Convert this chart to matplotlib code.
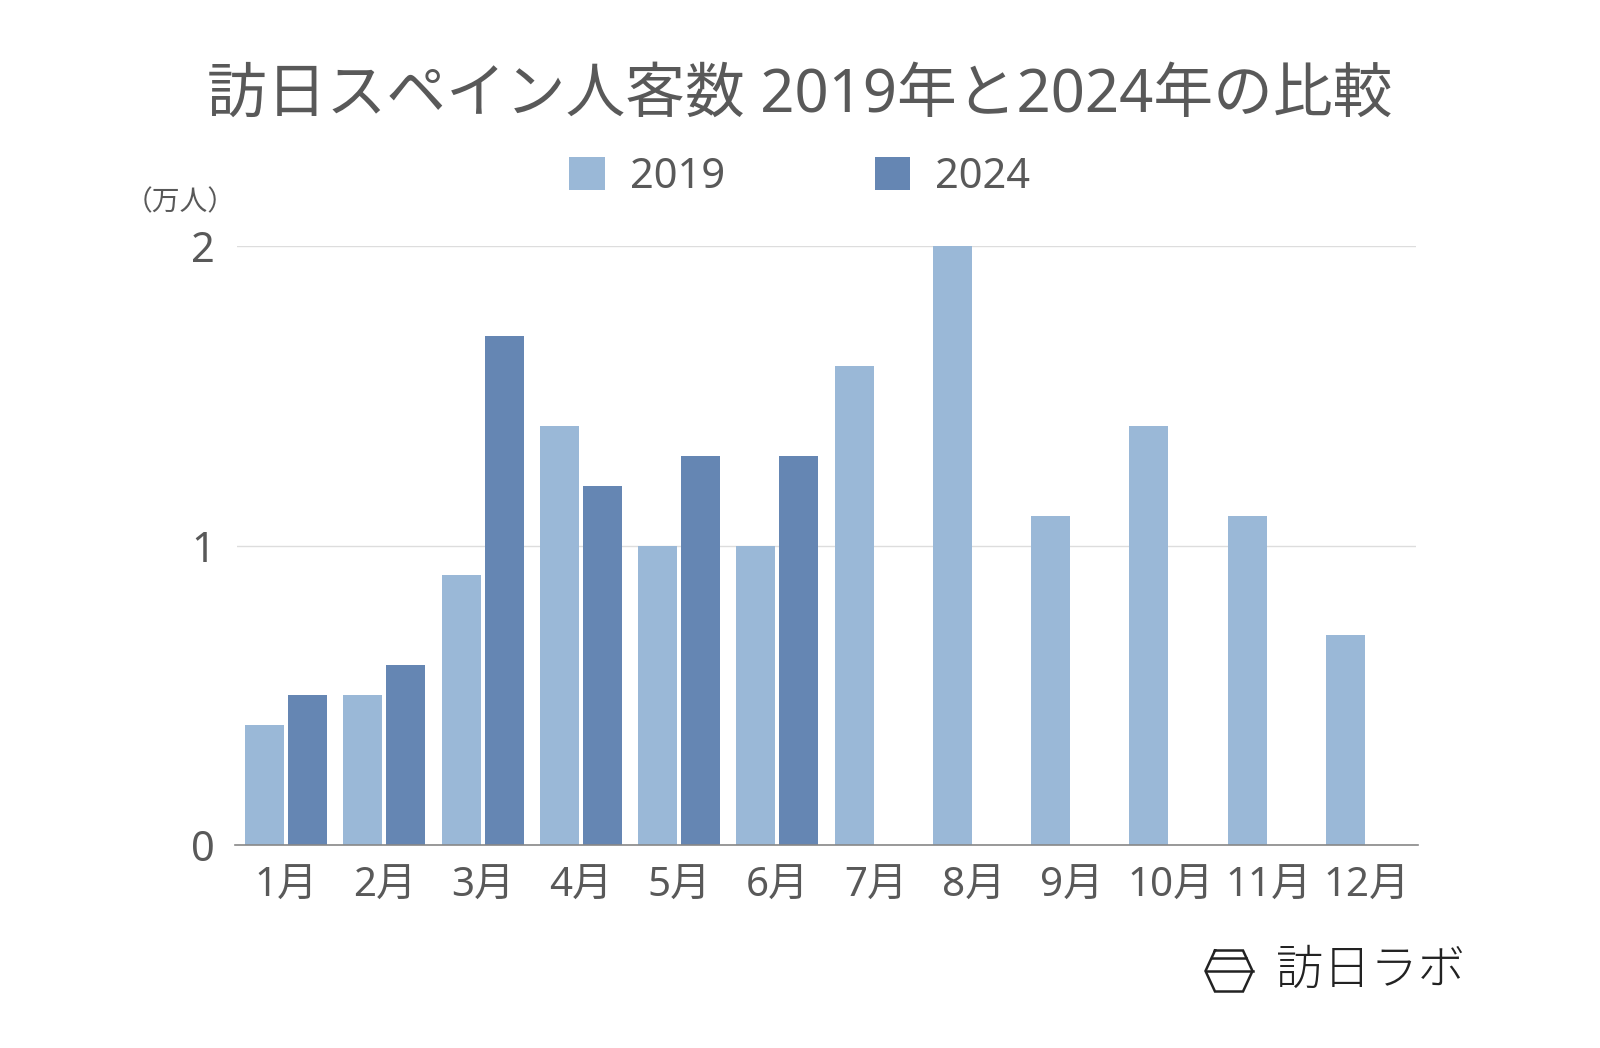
import matplotlib
matplotlib.use("Agg")
import matplotlib.pyplot as plt
import numpy as np

FAM = ['Noto Sans', 'Noto Sans CJK JP', 'DejaVu Sans']
plt.rcParams['font.family'] = FAM

months = ["1月", "2月", "3月", "4月", "5月", "6月", "7月", "8月", "9月", "10月", "11月", "12月"]
v2019 = [0.4, 0.5, 0.9, 1.4, 1.0, 1.0, 1.6, 2.0, 1.1, 1.4, 1.1, 0.7]
v2024 = [0.5, 0.6, 1.7, 1.2, 1.3, 1.3]
series_labels = ["2019", "2024"]
title = "訪日スペイン人客数 2019年と2024年の比較"
unit = "（万人）"
yticks = [0, 1, 2]

c19 = "#9AB8D7"
c24 = "#6586B3"
tc = "#595959"

fig = plt.figure(figsize=(16, 10.48), dpi=100)
ax = fig.add_axes([237/1600, 1 - 845/1048, (1416-237)/1600, (845-246)/1048])

x = np.arange(len(months))
w = 0.397
off = 0.219
ax.bar(x - off, v2019, width=w, color=c19, label=series_labels[0], zorder=2)
ax.bar(x[:len(v2024)] + off, v2024, width=w, color=c24, label=series_labels[1], zorder=2)

ax.set_xlim(-0.5, len(months) - 0.5)
ax.set_ylim(0, 2)
ax.set_yticks(yticks)
ax.set_yticklabels([str(t) for t in yticks], fontsize=30, color=tc)
ax.set_xticks(x)
ax.set_xticklabels(months, fontsize=29, color=tc)
ax.tick_params(axis='both', length=0)
ax.tick_params(axis='x', pad=16)
ax.tick_params(axis='y', pad=16)
for s in ["top", "right", "left"]:
    ax.spines[s].set_visible(False)
ax.spines["bottom"].set_color("#888888")
ax.spines["bottom"].set_linewidth(1.2)
ax.spines["bottom"].set_bounds(-0.52, len(months) - 0.48)
ax.grid(axis='y', color="#dddddd", linewidth=1, zorder=0)
ax.set_axisbelow(True)

fig.text(0.5, 1 - 96/1048, title, ha='center', va='center', fontsize=43, color=tc)
fig.text(180/1600, 1 - 203/1048, unit, ha='center', va='center', fontsize=20, color=tc)

leg = fig.legend(handles=[ax.patches[0], ax.patches[len(v2019)]], labels=series_labels,
                 loc='center', bbox_to_anchor=(0.5, 1 - 177/1048), ncol=2, frameon=False,
                 fontsize=30, handlelength=0.85, handleheight=0.85, columnspacing=3.6,
                 handletextpad=0.6)
for t in leg.get_texts():
    t.set_color(tc)

# logo
lx, ly = 1229, 971
hw_top, hw_mid, hh = 14, 23.5, 20.5
pts = [(lx-hw_top, ly-hh), (lx+hw_top, ly-hh), (lx+hw_mid, ly), (lx+hw_top, ly+hh),
       (lx-hw_top, ly+hh), (lx-hw_mid, ly), (lx-hw_top, ly-hh)]
lc = "#222222"
fig.lines.append(plt.Line2D([p[0]/1600 for p in pts], [1 - p[1]/1048 for p in pts],
                            transform=fig.transFigure, color=lc, lw=1.8, solid_joinstyle='miter'))
fig.lines.append(plt.Line2D([(lx-hw_mid)/1600, (lx+hw_mid)/1600], [1 - ly/1048]*2,
                            transform=fig.transFigure, color=lc, lw=1.8))
hw2 = hw_top + (hw_mid - hw_top) * (7/20.5)
fig.lines.append(plt.Line2D([(lx-hw2)/1600, (lx+hw2)/1600], [1 - (ly-13.5)/1048]*2,
                            transform=fig.transFigure, color=lc, lw=1.8))
fig.text(1276/1600, 1 - 970/1048, "訪日ラボ", ha='left', va='center', fontsize=34,
         color=lc, family=['Noto Sans CJK JP'], fontweight='light')

fig.savefig("out.png", dpi=100, facecolor="white")
